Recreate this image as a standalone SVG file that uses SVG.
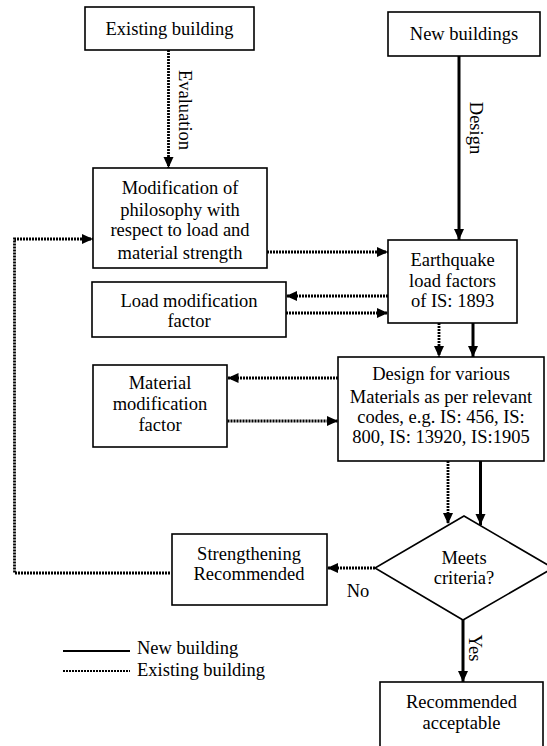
<svg xmlns="http://www.w3.org/2000/svg" width="547" height="746" viewBox="0 0 547 746">
<style>
.box{fill:#fff;stroke:#000;stroke-width:1.6}
.t{font-family:"Liberation Serif","Times New Roman",serif;font-size:18.5px;fill:#000;text-anchor:middle}
.sol{fill:none;stroke:#000;stroke-width:3}
.dot{fill:none;stroke:#000;stroke-width:2.8;stroke-dasharray:2 1}
.lg{fill:none;stroke:#000;stroke-width:2}
</style>
<defs>
<marker id="ah" markerUnits="userSpaceOnUse" markerWidth="12" markerHeight="11" refX="11" refY="5" orient="auto">
<path d="M0,0 L11,5 L0,10 z" fill="#000"/>
</marker>
</defs>
<rect width="547" height="746" fill="#fff"/>

<g id="connectors">
<line class="dot" x1="168.5" y1="50" x2="168.5" y2="168" marker-end="url(#ah)"/>
<line class="sol" x1="459" y1="56" x2="459" y2="240" marker-end="url(#ah)"/>
<line class="dot" x1="267" y1="252" x2="388" y2="252" marker-end="url(#ah)"/>
<polyline class="dot" points="170,573 14.5,573 14.5,239 93,239" marker-end="url(#ah)"/>
<line class="dot" x1="388" y1="296" x2="286" y2="296" marker-end="url(#ah)"/>
<line class="dot" x1="286" y1="313" x2="388" y2="313" marker-end="url(#ah)"/>
<line class="dot" x1="439" y1="323" x2="439" y2="357" marker-end="url(#ah)"/>
<line class="sol" x1="473" y1="323" x2="473" y2="357" marker-end="url(#ah)"/>
<line class="dot" x1="338" y1="378" x2="227.5" y2="378" marker-end="url(#ah)"/>
<line class="dot" x1="227.5" y1="421" x2="338" y2="421" marker-end="url(#ah)"/>
<line class="dot" x1="448" y1="461" x2="448" y2="524" marker-end="url(#ah)"/>
<line class="sol" x1="480.5" y1="461" x2="480.5" y2="525" marker-end="url(#ah)"/>
<line class="dot" x1="375" y1="568" x2="327" y2="568" marker-end="url(#ah)"/>
<line class="sol" x1="463" y1="620" x2="463" y2="682" marker-end="url(#ah)"/>
<text class="t" transform="translate(179,110) rotate(90)">Evaluation</text>
<text class="t" transform="translate(470,128) rotate(90)">Design</text>
<text class="t" transform="translate(469,648) rotate(90)">Yes</text>
<text class="t" x="358" y="597">No</text>
</g>

<g id="existing">
<rect class="box" x="85" y="7" width="169" height="43"/>
<text class="t" x="169.5" y="35">Existing building</text>
</g>
<g id="new">
<rect class="box" x="388" y="12" width="152" height="44"/>
<text class="t" x="464" y="40">New buildings</text>
</g>
<g id="modification">
<rect class="box" x="93" y="168" width="174" height="100"/>
<text class="t" x="180" y="194">Modification of</text>
<text class="t" x="180" y="216">philosophy with</text>
<text class="t" x="180" y="236">respect to load and</text>
<text class="t" x="180" y="259">material strength</text>
</g>
<g id="earthquake">
<rect class="box" x="388" y="240" width="129" height="83"/>
<text class="t" x="452.5" y="266">Earthquake</text>
<text class="t" x="452.5" y="287">load factors</text>
<text class="t" x="452.5" y="307">of IS: 1893</text>
</g>
<g id="loadmod">
<rect class="box" x="92" y="282" width="194" height="55"/>
<text class="t" x="189" y="307">Load modification</text>
<text class="t" x="189" y="327">factor</text>
</g>
<g id="design">
<rect class="box" x="338" y="357" width="206" height="104"/>
<text class="t" x="441" y="380">Design for various</text>
<text class="t" x="441" y="403">Materials as per relevant</text>
<text class="t" x="441" y="423">codes, e.g. IS: 456, IS:</text>
<text class="t" x="441" y="443">800, IS: 13920, IS:1905</text>
</g>
<g id="matmod">
<rect class="box" x="93" y="365" width="134" height="82"/>
<text class="t" x="160" y="389">Material</text>
<text class="t" x="160" y="410">modification</text>
<text class="t" x="160" y="431">factor</text>
</g>
<g id="criteria">
<polygon class="box" points="464,516 553,568 463,620 375,568"/>
<text class="t" x="464" y="564">Meets</text>
<text class="t" x="464" y="584">criteria?</text>
</g>
<g id="strengthening">
<rect class="box" x="172" y="534" width="155" height="71"/>
<text class="t" x="249" y="560">Strengthening</text>
<text class="t" x="249" y="580">Recommended</text>
</g>
<g id="acceptable">
<rect class="box" x="380" y="682" width="163" height="70"/>
<text class="t" x="461.5" y="708">Recommended</text>
<text class="t" x="461.5" y="729">acceptable</text>
</g>
<g id="legend">
<line class="lg" x1="63" y1="651" x2="130" y2="651"/>
<line class="dot" x1="63" y1="671" x2="130" y2="671" style="stroke-width:2.2"/>
<text class="t" x="137" y="654" style="text-anchor:start">New building</text>
<text class="t" x="137" y="676" style="text-anchor:start">Existing building</text>
</g>
</svg>
